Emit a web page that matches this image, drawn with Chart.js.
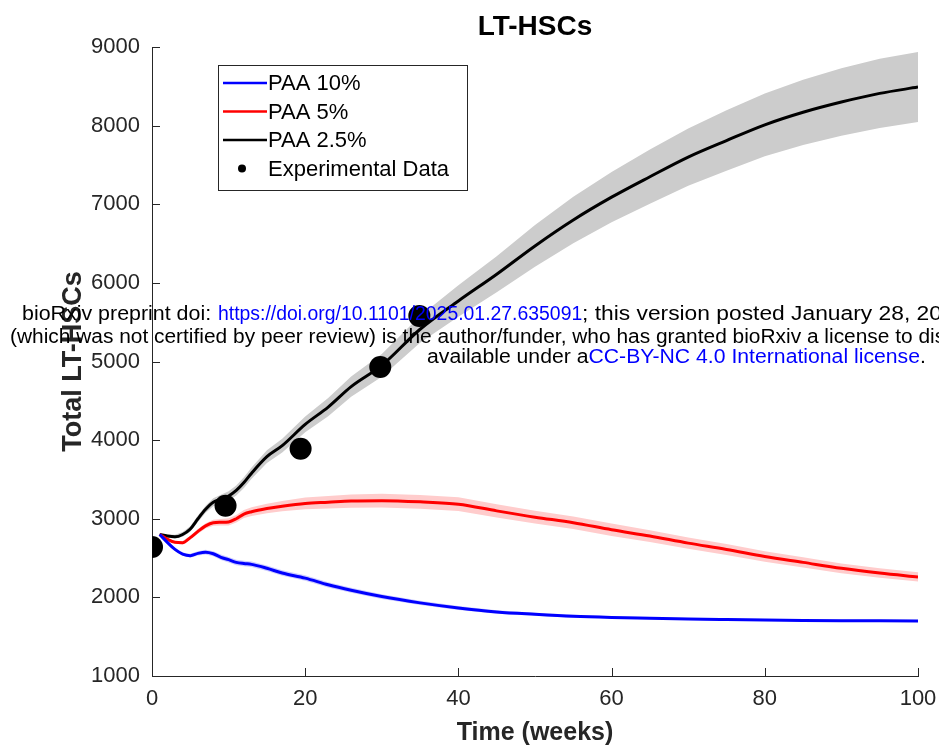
<!DOCTYPE html>
<html>
<head>
<meta charset="utf-8">
<script src="https://cdn.jsdelivr.net/npm/chart.js@4.4.1/dist/chart.umd.min.js"></script>
<style>
    body { margin: 0; background: #fff; }
    #wrap { position: relative; width: 939px; height: 754px; overflow: hidden; }
    #wrap canvas { position: absolute; left: 0; top: 0; }
    .wm { position: absolute; white-space: nowrap; font-family: "Liberation Sans", Arial, sans-serif; font-size: 20px; color: #000; transform-origin: 0 0; }
    .blue { color: #0000ff; }
</style>
</head>
<body>
<div id="wrap">
    <canvas id="chart-lt-hscs" width="939" height="754"></canvas>
    <div class="wm" style="left:22px; top:302px; transform:scaleX(1.07);">bioRxiv preprint doi:</div>
    <div class="wm blue" style="left:218px; top:302px; transform:scaleX(0.97);">https://doi.org/10.1101/2025.01.27.635091</div>
    <div class="wm" style="left:582px; top:302px; transform:scaleX(1.14);">; this version posted January 28, 2025. The copyright holder for this preprint</div>
    <div class="wm" style="left:10px; top:325px; transform:scaleX(1.045);">(which was not certified by peer review) is the author/funder, who has granted bioRxiv a license to display the preprint in perpetuity. It is made</div>
    <div class="wm" style="left:427px; top:345px; transform:scaleX(1.06);">available under a<span class="blue">CC-BY-NC 4.0 International license</span>.</div>
</div>
<script>
// tiempo (semanas) de la simulacion
var weeks = [1, 2, 3, 4, 5, 6, 7, 8, 9, 10, 11, 12, 13, 15, 17, 20, 23, 26, 30, 35, 40, 45, 50, 55, 60, 65, 70, 75, 80, 85, 90, 95, 100];

// media de cada escenario
var paa10 = [2800, 2700, 2610, 2550, 2530, 2560, 2575, 2555, 2510, 2480, 2445, 2430, 2420, 2370, 2310, 2245, 2160, 2090, 2010, 1930, 1865, 1815, 1785, 1760, 1745, 1735, 1725, 1718, 1712, 1707, 1704, 1702, 1700];
var paa5 = [2800, 2740, 2700, 2695, 2760, 2840, 2910, 2950, 2955, 2960, 3000, 3060, 3090, 3130, 3160, 3195, 3210, 3225, 3230, 3215, 3185, 3100, 3020, 2950, 2860, 2780, 2690, 2610, 2520, 2445, 2370, 2310, 2260];
var paa25 = [2800, 2780, 2770, 2800, 2870, 3000, 3120, 3210, 3250, 3290, 3360, 3460, 3580, 3790, 3930, 4200, 4420, 4680, 4950, 5410, 5770, 6110, 6470, 6800, 7090, 7350, 7600, 7810, 8010, 8170, 8300, 8410, 8490];

// semi-ancho de la banda sombreada
var paa10Spread = [10, 15, 20, 22, 25, 28, 30, 32, 34, 35, 35, 35, 35, 35, 35, 35, 33, 32, 30, 28, 25, 22, 20, 18, 15, 14, 13, 12, 12, 12, 12, 12, 12];
var paa5Spread = [10, 14, 18, 22, 25, 30, 34, 38, 42, 45, 48, 52, 55, 60, 65, 75, 80, 85, 88, 88, 87, 85, 82, 80, 78, 75, 72, 70, 67, 65, 62, 60, 58];
var paa25Spread = [15, 20, 25, 30, 35, 40, 45, 50, 55, 60, 64, 68, 72, 80, 88, 100, 115, 128, 145, 170, 200, 230, 265, 295, 320, 345, 365, 385, 400, 415, 430, 440, 445];

// datos experimentales
var expWeeks = [0, 9.6, 19.4, 29.8, 34.9];
var expCells = [2640, 3165, 3890, 4930, 5580];

var xTicks = [0, 20, 40, 60, 80, 100];
var yTicks = [1000, 2000, 3000, 4000, 5000, 6000, 7000, 8000, 9000];

var axisColor = '#262626';
var fontFamily = '"Liberation Sans", Arial, Helvetica, sans-serif';

function toPoints(xs, ys, shift) {
    return xs.map(function (x, i) {
        return {x: x, y: ys[i] + (shift ? shift[i] : 0)};
    });
}
function neg(arr) {
    return arr.map(function (v) { return -v; });
}

function bandPair(mean, spread, color) {
    return [{
        label: '_band',
        data: toPoints(weeks, mean, spread),
        borderWidth: 0,
        pointRadius: 0,
        backgroundColor: color,
        fill: '+1',
        order: 3
    }, {
        label: '_band',
        data: toPoints(weeks, mean, neg(spread)),
        borderWidth: 0,
        pointRadius: 0,
        fill: false,
        order: 3
    }];
}

function lineSet(label, mean, color) {
    return {
        label: label,
        data: toPoints(weeks, mean),
        borderColor: color,
        borderWidth: 3,
        pointRadius: 0,
        fill: false,
        cubicInterpolationMode: 'monotone',
        order: 1
    };
}

var datasets = []
    .concat(bandPair(paa25, paa25Spread, 'rgb(204,204,204)'))
    .concat(bandPair(paa5, paa5Spread, 'rgb(255,204,204)'))
    .concat(bandPair(paa10, paa10Spread, 'rgb(204,204,255)'))
    .concat([
        lineSet('PAA 10%', paa10, 'rgb(0,0,255)'),
        lineSet('PAA 5%', paa5, 'rgb(255,0,0)'),
        lineSet('PAA 2.5%', paa25, 'rgb(0,0,0)'),
        {
            label: 'Experimental Data',
            type: 'scatter',
            data: toPoints(expWeeks, expCells),
            pointRadius: 11,
            pointBackgroundColor: '#000',
            pointBorderWidth: 0,
            showLine: false,
            order: 0
        }
    ]);

// ticks hacia adentro (estilo matlab)
var innerTicks = {
    id: 'innerTicks',
    afterDatasetsDraw: function (chart) {
        var ctx = chart.ctx, xs = chart.scales.x, ys = chart.scales.y;
        ctx.save();
        ctx.strokeStyle = axisColor;
        ctx.lineWidth = 1;
        ctx.beginPath();
        xTicks.forEach(function (t) {
            var px = Math.round(xs.getPixelForValue(t)) + 0.5;
            ctx.moveTo(px, ys.bottom);
            ctx.lineTo(px, ys.bottom - 8);
        });
        yTicks.forEach(function (t) {
            var py = Math.round(ys.getPixelForValue(t)) + 0.5;
            ctx.moveTo(xs.left, py);
            ctx.lineTo(xs.left + 8, py);
        });
        ctx.stroke();
        ctx.restore();
    }
};

// leyenda con caja dentro del area del grafico
var boxLegend = {
    id: 'boxLegend',
    afterDraw: function (chart) {
        var ctx = chart.ctx;
        var box = {x: 218.5, y: 65.5, w: 249, h: 125};
        var rows = [
            {text: 'PAA 10%', color: 'rgb(0,0,255)', dot: false},
            {text: 'PAA 5%', color: 'rgb(255,0,0)', dot: false},
            {text: 'PAA 2.5%', color: 'rgb(0,0,0)', dot: false},
            {text: 'Experimental Data', color: '#000', dot: true}
        ];
        ctx.save();
        ctx.fillStyle = '#fff';
        ctx.fillRect(box.x, box.y, box.w, box.h);
        ctx.strokeStyle = axisColor;
        ctx.lineWidth = 1;
        ctx.strokeRect(box.x, box.y, box.w, box.h);
        ctx.font = '22px ' + fontFamily;
        ctx.textBaseline = 'middle';
        rows.forEach(function (r, i) {
            var y = 83 + i * 28.5;
            if (r.dot) {
                ctx.fillStyle = r.color;
                ctx.beginPath();
                ctx.arc(242, y, 4, 0, Math.PI * 2);
                ctx.fill();
            } else {
                ctx.strokeStyle = r.color;
                ctx.lineWidth = 2.5;
                ctx.beginPath();
                ctx.moveTo(223, y);
                ctx.lineTo(267, y);
                ctx.stroke();
            }
            ctx.fillStyle = '#000';
            ctx.fillText(r.text, 268, y + 1);
        });
        ctx.restore();
    }
};

var ctxLt = document.getElementById('chart-lt-hscs');

var chartLt = new Chart(ctxLt, {
    type: 'line',
    data: {datasets: datasets},
    plugins: [innerTicks, boxLegend],
    options: {
        responsive: false,
        animation: false,
        layout: {padding: {top: 0, left: 0, right: 21, bottom: 0}},
        plugins: {
            legend: {display: false},
            tooltip: {enabled: false},
            title: {
                display: true,
                fullSize: false,
                text: 'LT-HSCs',
                color: '#000',
                font: {family: fontFamily, size: 28, weight: 'bold'},
                padding: {top: 10, bottom: 3.4}
            }
        },
        scales: {
            x: {
                type: 'linear',
                min: 0,
                max: 100,
                afterFit: function (scale) {
                    scale.height = 78;
                    scale.paddingLeft = 0;
                    scale.paddingRight = 0;
                },
                afterBuildTicks: function (scale) {
                    scale.ticks = xTicks.map(function (v) { return {value: v}; });
                },
                grid: {drawOnChartArea: false, drawTicks: false},
                border: {display: true, color: axisColor, width: 1},
                ticks: {color: axisColor, padding: 10, maxRotation: 0, font: {family: fontFamily, size: 22}},
                title: {
                    display: true,
                    text: 'Time (weeks)',
                    color: axisColor,
                    font: {family: fontFamily, size: 25, weight: 'bold'},
                    padding: {top: 0, bottom: 6}
                }
            },
            y: {
                type: 'linear',
                min: 1000,
                max: 9000,
                afterFit: function (scale) {
                    scale.width = 152;
                    scale.paddingTop = 0;
                    scale.paddingBottom = 0;
                },
                afterBuildTicks: function (scale) {
                    scale.ticks = yTicks.map(function (v) { return {value: v}; });
                },
                grid: {drawOnChartArea: false, drawTicks: false},
                border: {display: true, color: axisColor, width: 1},
                ticks: {
                    color: axisColor,
                    padding: 12,
                    font: {family: fontFamily, size: 22},
                    callback: function (v) { return String(v); }
                },
                title: {
                    display: true,
                    text: 'Total LT-HSCs',
                    color: axisColor,
                    font: {family: fontFamily, size: 27, weight: 'bold'},
                    padding: {top: 57, bottom: 0}
                }
            }
        }
    }
});
</script>
</body>
</html>
